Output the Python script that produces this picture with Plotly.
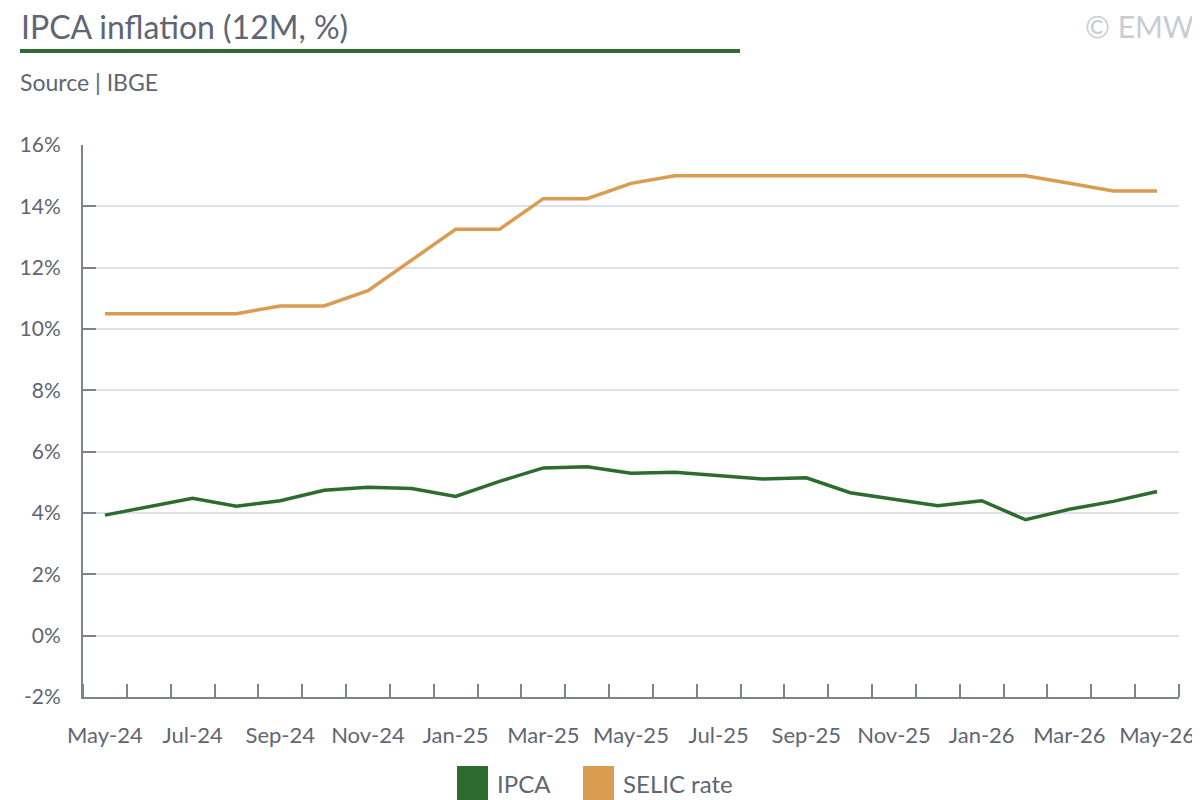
import plotly.graph_objects as go

months = [
    "May-24", "Jun-24", "Jul-24", "Aug-24", "Sep-24", "Oct-24", "Nov-24", "Dec-24",
    "Jan-25", "Feb-25", "Mar-25", "Apr-25", "May-25", "Jun-25", "Jul-25", "Aug-25",
    "Sep-25", "Oct-25", "Nov-25", "Dec-25", "Jan-26", "Feb-26", "Mar-26", "Apr-26",
    "May-26",
]
ipca = [
    3.93, 4.20, 4.48, 4.22, 4.40, 4.74, 4.84, 4.80, 4.54, 5.03, 5.47, 5.51, 5.30,
    5.33, 5.22, 5.11, 5.15, 4.66, 4.45, 4.24, 4.40, 3.78, 4.12, 4.38, 4.70,
]
selic = [
    10.50, 10.50, 10.50, 10.50, 10.75, 10.75, 11.25, 12.25, 13.25, 13.25, 14.25,
    14.25, 14.75, 15.00, 15.00, 15.00, 15.00, 15.00, 15.00, 15.00, 15.00, 15.00,
    14.75, 14.50, 14.50,
]
y_ticks = [-2, 0, 2, 4, 6, 8, 10, 12, 14, 16]

GREEN = "#2e6b2f"
ORANGE = "#d99c50"
TEXT = "#5f6673"
AXIS = "#7d828d"
GRID = "#dde3ea"
FONT = "Lato"

# the page body adds an 8px offset, so the figure is drawn 8px smaller
OFF = 8
W, H = 1200 - OFF, 800 - OFF
# plot area in page pixels
L, R, T, B = 83, 1179, 145, 697
PW, PH = R - L, B - T


def px(xp):
    return (xp - L) / PW


def py(yp):
    return (B - yp) / PH


x = list(range(len(months)))

fig = go.Figure()
fig.add_trace(go.Scatter(x=x, y=ipca, mode="lines", name="IPCA",
                         line=dict(color=GREEN, width=3.5), showlegend=False))
fig.add_trace(go.Scatter(x=x, y=selic, mode="lines", name="SELIC rate",
                         line=dict(color=ORANGE, width=3.5), showlegend=False))

fig.update_layout(
    width=W, height=H,
    margin=dict(l=L - OFF, r=W - (R - OFF), t=T - OFF, b=H - (B - OFF), autoexpand=False),
    paper_bgcolor="white", plot_bgcolor="white",
    font=dict(family=FONT, color=TEXT, size=20),
)

fig.update_xaxes(
    range=[-0.5, len(months) - 0.5], automargin=False,
    tickmode="array", tickvals=x[::2], ticktext=months[::2],
    ticks="", showgrid=False, zeroline=False,
    showline=True, linecolor=AXIS, linewidth=2,
    ticklabelstandoff=18,
    tickfont=dict(size=22, color=TEXT),
    minor=dict(tick0=0.5, dtick=1, ticks="inside", ticklen=13,
               tickcolor=AXIS, tickwidth=2, showgrid=False),
)
fig.update_yaxes(
    range=[-2, 16], automargin=False,
    tickmode="array", tickvals=y_ticks, ticktext=[f"{v}%" for v in y_ticks],
    ticks="inside", ticklen=13, tickcolor=AXIS, tickwidth=2,
    showgrid=True, gridcolor=GRID, gridwidth=2, zeroline=False,
    showline=True, linecolor=AXIS, linewidth=2,
    ticklabelstandoff=16,
    tickfont=dict(size=21, color=TEXT),
)

# title, underline, source, watermark
fig.add_annotation(text="IPCA inflation (12M, %)", xref="paper", yref="paper",
                   x=px(19), y=py(26), xanchor="left", yanchor="middle",
                   showarrow=False, font=dict(size=32, color=TEXT, family=FONT))
fig.add_annotation(text="© EMW", xref="paper", yref="paper",
                   x=px(1196), y=py(26), xanchor="right", yanchor="middle",
                   showarrow=False, font=dict(size=30, color="#c9cdd3", family=FONT))
fig.add_shape(type="line", xref="paper", yref="paper",
              x0=px(20), x1=px(740), y0=py(51), y1=py(51),
              line=dict(color=GREEN, width=4))
fig.add_annotation(text="Source | IBGE", xref="paper", yref="paper",
                   x=px(18), y=py(82), xanchor="left", yanchor="middle",
                   showarrow=False, font=dict(size=23, color=TEXT, family=FONT))

# legend drawn as colored blocks with labels
legend_items = [("IPCA", GREEN, 457), ("SELIC rate", ORANGE, 583)]
for label, color, left in legend_items:
    fig.add_shape(type="rect", xref="paper", yref="paper",
                  x0=px(left), x1=px(left + 31), y0=py(800), y1=py(766),
                  line=dict(width=0), fillcolor=color)
    fig.add_annotation(text=label, xref="paper", yref="paper",
                       x=px(left + 38), y=py(783),
                       xanchor="left", yanchor="middle", showarrow=False,
                       font=dict(size=24, color=TEXT, family=FONT))

fig.write_html("out.html")
